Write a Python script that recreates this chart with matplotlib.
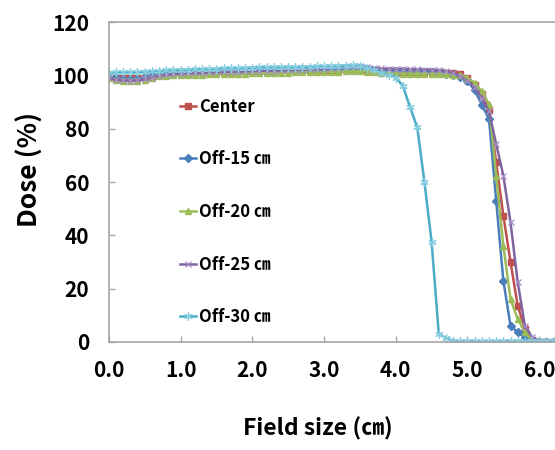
import matplotlib
matplotlib.use("Agg")
import matplotlib.pyplot as plt

# field position (cm)
field_cm = [0.0, 0.1, 0.2, 0.3, 0.4, 0.5, 0.6, 0.7, 0.8, 0.9,
            1.0, 1.1, 1.2, 1.3, 1.4, 1.5, 1.6, 1.7, 1.8, 1.9,
            2.0, 2.1, 2.2, 2.3, 2.4, 2.5, 2.6, 2.7, 2.8, 2.9,
            3.0, 3.1, 3.2, 3.3, 3.4, 3.5, 3.6, 3.7, 3.8, 3.9,
            4.0, 4.1, 4.2, 4.3, 4.4, 4.5, 4.6, 4.7, 4.8, 4.9,
            5.0, 5.1, 5.2, 5.3, 5.4, 5.5, 5.6, 5.7, 5.8, 5.9,
            6.0, 6.1, 6.2]

dose_center = [99.8, 99.2, 99.0, 98.9, 99.0, 99.3, 99.9, 100.5, 100.8, 100.9,
               101.0, 101.0, 101.1, 101.2, 101.2, 101.3, 101.4, 101.4, 101.5, 101.6,
               101.7, 101.7, 101.8, 101.8, 101.9, 101.9, 102.0, 102.0, 102.0, 102.1,
               102.1, 102.2, 102.2, 102.3, 102.4, 102.4, 102.1, 101.8, 101.6, 101.5,
               101.4, 101.4, 101.3, 101.3, 101.2, 101.2, 101.1, 101.0, 100.8, 100.4,
               99.0, 96.5, 93.0, 87.0, 67.4, 47.4, 30.0, 13.6, 5.0, 0.8,
               0.0, 0.0, 0.0]

dose_off15 = [99.5, 98.9, 98.6, 98.5, 98.7, 99.1, 99.8, 100.3, 100.6, 100.7,
              100.8, 100.8, 100.9, 101.0, 101.0, 101.1, 101.2, 101.2, 101.3, 101.4,
              101.5, 101.5, 101.6, 101.6, 101.7, 101.7, 101.8, 101.8, 101.9, 101.9,
              102.0, 102.1, 102.2, 102.3, 102.5, 102.6, 102.3, 101.9, 101.7, 101.6,
              101.5, 101.5, 101.4, 101.4, 101.3, 101.2, 101.0, 100.7, 100.3, 99.5,
              97.8, 94.5, 89.0, 83.6, 53.0, 23.0, 6.1, 3.6, 1.8, 0.3,
              0.0, 0.0, 0.0]

dose_off20 = [99.0, 98.3, 98.0, 97.9, 98.0, 98.4, 99.0, 99.6, 99.9, 100.0,
              100.1, 100.2, 100.3, 100.3, 100.4, 100.5, 100.5, 100.6, 100.6, 100.7,
              100.8, 100.8, 100.9, 100.9, 101.0, 101.0, 101.1, 101.1, 101.2, 101.2,
              101.3, 101.3, 101.4, 101.5, 101.6, 101.6, 101.4, 101.1, 100.9, 100.8,
              100.7, 100.7, 100.6, 100.6, 100.6, 100.5, 100.5, 100.4, 100.3, 100.0,
              99.2, 97.2, 94.0, 89.2, 62.4, 36.1, 16.1, 8.6, 3.7, 0.5,
              0.0, 0.0, 0.0]

dose_off25 = [99.0, 98.4, 98.1, 98.0, 98.1, 98.5, 99.2, 99.9, 100.3, 100.5,
              100.7, 100.8, 100.9, 101.0, 101.1, 101.2, 101.3, 101.4, 101.4, 101.5,
              101.6, 101.7, 101.8, 101.8, 101.9, 102.0, 102.1, 102.2, 102.3, 102.4,
              102.5, 102.7, 102.9, 103.1, 103.4, 103.6, 103.2, 102.8, 102.6, 102.5,
              102.4, 102.4, 102.3, 102.3, 102.2, 102.1, 101.9, 101.7, 100.9, 99.6,
              97.9, 95.5, 91.5, 86.5, 74.2, 62.4, 44.9, 22.4, 6.1, 1.9,
              0.5, 0.3, 0.3]

dose_off30 = [101.0, 101.1, 101.2, 101.2, 101.3, 101.4, 101.5, 101.7, 101.9, 102.0,
              102.1, 102.2, 102.3, 102.3, 102.4, 102.5, 102.6, 102.7, 102.7, 102.8,
              102.9, 103.0, 103.0, 103.1, 103.1, 103.2, 103.2, 103.3, 103.3, 103.4,
              103.4, 103.5, 103.6, 103.7, 103.8, 103.6, 102.9, 102.0, 101.0, 100.2,
              99.2, 96.0, 88.0, 80.5, 60.0, 37.5, 3.0, 1.5, 0.5, 0.3,
              0.3, 0.3, 0.3, 0.3, 0.3, 0.3, 0.3, 0.3, 0.3, 0.3,
              0.3, 0.3, 0.3]

labels = ["Center", "Off-15 ㎝", "Off-20 ㎝", "Off-25 ㎝", "Off-30 ㎝"]

font = ["Noto Sans CJK KR", "DejaVu Sans"]

fig = plt.figure(figsize=(5.55, 4.5), dpi=100)
ax = fig.add_axes([0.196, 0.24, 0.804, 0.711])

ax.plot(field_cm, dose_center, color="#C0504D", lw=1.8, marker="s", ms=4.5,
        label=labels[0])
ax.plot(field_cm, dose_off15, color="#4A7EBB", lw=1.8, marker="D", ms=4,
        label=labels[1])
ax.plot(field_cm, dose_off20, color="#9BBB59", lw=1.8, marker="^", ms=5,
        label=labels[2])
ax.plot(field_cm, dose_off25, color="#8064A2", lw=1.8, marker="x", ms=5,
        mew=0.9, mec="#A58FC4", label=labels[3])
ax.plot(field_cm, dose_off30, color="#4BACC6", lw=1.8, marker=(6, 2, 0), ms=6,
        mew=0.9, mec="#86CDE0", label=labels[4])

ax.set_xlim(0, 6.22)
ax.set_ylim(0, 120)
ax.set_xticks([0, 1, 2, 3, 4, 5, 6])
ax.set_xticklabels(["0.0", "1.0", "2.0", "3.0", "4.0", "5.0", "6.0"])
ax.set_yticks([0, 20, 40, 60, 80, 100, 120])

for s in ["left", "bottom", "top"]:
    ax.spines[s].set_color("#A6A6A6")
    ax.spines[s].set_linewidth(1.2)
ax.spines["right"].set_visible(False)

ax.tick_params(direction="in", length=4, color="#A6A6A6", width=1)
ax.tick_params(axis="y", pad=14)
ax.tick_params(axis="x", pad=13)
for t in ax.get_xticklabels() + ax.get_yticklabels():
    t.set_family(font)
    t.set_fontweight("bold")
    t.set_fontsize(15)

ax.set_ylabel("Dose (%)", fontsize=19, fontweight="bold", family=font)
ax.yaxis.set_label_coords(-0.145, 0.54)
ax.set_xlabel("Field size (㎝)", fontsize=16.5, fontweight="bold", family=font)
ax.xaxis.set_label_coords(0.469, -0.235)

leg = ax.legend(loc="upper left", bbox_to_anchor=(0.14, 0.79), frameon=False,
                borderpad=0, labelspacing=2.08, handlelength=1.0,
                handletextpad=0.15, prop={"family": font, "weight": "bold",
                                          "size": 12})

fig.savefig("out.png", dpi=100)
